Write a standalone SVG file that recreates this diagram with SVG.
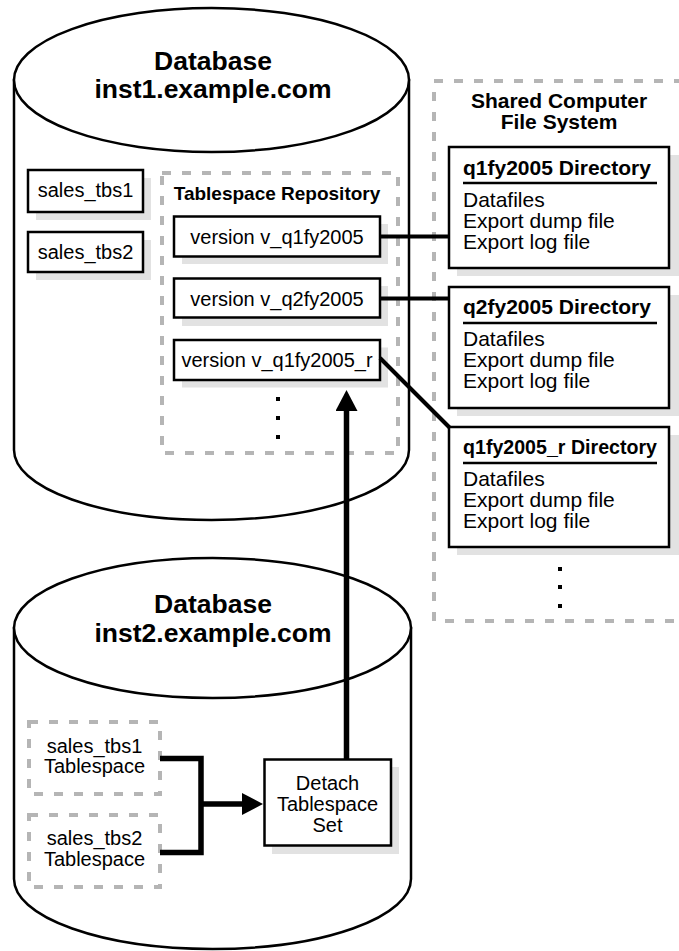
<svg xmlns="http://www.w3.org/2000/svg" width="679" height="951" viewBox="0 0 679 951">
<style>
.cyl{fill:#fff;stroke:#000;stroke-width:2.5}
.box{fill:#fff;stroke:#000;stroke-width:2.5}
.shadow{fill:#e2e2e2;stroke:none}
.dash{fill:none;stroke:#b5b5b5;stroke-width:4;stroke-dasharray:9 11}
.t{font-family:"Liberation Sans",Arial,Helvetica,sans-serif;font-size:20px;fill:#000}
.td{font-family:"Liberation Sans",Arial,Helvetica,sans-serif;font-size:21px;fill:#000}
.tb{font-family:"Liberation Sans",Arial,Helvetica,sans-serif;font-size:21px;font-weight:bold;fill:#000}
.title{font-family:"Liberation Sans",Arial,Helvetica,sans-serif;font-size:26.5px;font-weight:bold;fill:#000}
.c{text-anchor:middle}
.conn{fill:none;stroke:#000;stroke-width:4}
.thick{fill:none;stroke:#000;stroke-width:5.5}
.dot{fill:#000}
</style>
<defs>
<marker id="arr" markerWidth="22" markerHeight="22" refX="0" refY="11" orient="auto" markerUnits="userSpaceOnUse">
<path d="M0,0 L21,11 L0,22 z" fill="#000"/>
</marker>
</defs>

<g id="db1">
<path class="cyl" d="M14,80 L14,450 A197.5,70 0 0 0 409,450 L409,80 Z"/>
<ellipse class="cyl" cx="211.5" cy="80" rx="197.5" ry="72"/>
<text class="title c" x="213" y="70">Database</text>
<text class="title c" x="213" y="98">inst1.example.com</text>
</g>

<g id="sales_tbs1">
<rect class="shadow" x="36" y="178" width="115" height="42"/>
<rect class="box" x="28" y="170" width="115" height="42"/>
<text class="t c" x="85.5" y="197">sales_tbs1</text>
</g>
<g id="sales_tbs2">
<rect class="shadow" x="36" y="240" width="115" height="40"/>
<rect class="box" x="28" y="232" width="115" height="40"/>
<text class="t c" x="85.5" y="258.5">sales_tbs2</text>
</g>

<g id="repository">
<rect class="dash" x="162" y="173" width="236" height="280"/>
<text class="tb c" x="277" y="200" style="font-size:19px">Tablespace Repository</text>
<rect class="dot" x="276" y="397" width="4" height="4"/>
<rect class="dot" x="276" y="416" width="4" height="4"/>
<rect class="dot" x="276" y="435" width="4" height="4"/>
</g>

<g id="v_q1fy2005">
<rect class="shadow" x="182" y="224" width="206" height="40"/>
<rect class="box" x="174" y="216.5" width="206" height="40"/>
<text class="t c" x="277" y="243.5">version v_q1fy2005</text>
</g>
<g id="v_q2fy2005">
<rect class="shadow" x="182" y="286" width="206" height="40"/>
<rect class="box" x="174" y="278.5" width="206" height="39"/>
<text class="t c" x="277" y="305.5">version v_q2fy2005</text>
</g>
<g id="v_q1fy2005_r">
<rect class="shadow" x="182" y="347.5" width="206" height="40"/>
<rect class="box" x="174" y="340" width="206" height="40"/>
<text class="t c" x="277" y="366.5">version v_q1fy2005_r</text>
</g>

<g id="shared_fs">
<rect class="dash" x="434" y="81" width="270" height="540"/>
<text class="tb c" x="559" y="108">Shared Computer</text>
<text class="tb c" x="559" y="129">File System</text>
<rect class="dot" x="558" y="567" width="4" height="4"/>
<rect class="dot" x="558" y="585" width="4" height="4"/>
<rect class="dot" x="558" y="604" width="4" height="4"/>
</g>

<g id="dir_q1fy2005">
<rect class="shadow" x="457" y="155" width="230" height="121"/>
<rect class="box" x="449" y="147" width="220" height="121"/>
<text class="tb" x="463" y="175">q1fy2005 Directory</text>
<line x1="463" y1="183" x2="657" y2="183" stroke="#000" stroke-width="2.5"/>
<text class="td" x="463" y="206.5">Datafiles</text>
<text class="td" x="463" y="227.5">Export dump file</text>
<text class="td" x="463" y="248.5">Export log file</text>
</g>
<g id="dir_q2fy2005">
<rect class="shadow" x="457" y="295" width="230" height="121"/>
<rect class="box" x="449" y="287" width="220" height="121"/>
<text class="tb" x="463" y="314">q2fy2005 Directory</text>
<line x1="463" y1="323" x2="657" y2="323" stroke="#000" stroke-width="2.5"/>
<text class="td" x="463" y="345.5">Datafiles</text>
<text class="td" x="463" y="366.5">Export dump file</text>
<text class="td" x="463" y="388">Export log file</text>
</g>
<g id="dir_q1fy2005_r">
<rect class="shadow" x="457" y="435" width="230" height="120"/>
<rect class="box" x="449" y="427" width="220" height="120"/>
<text class="tb" x="463" y="454" textLength="194" lengthAdjust="spacingAndGlyphs">q1fy2005_r Directory</text>
<line x1="463" y1="463" x2="657" y2="463" stroke="#000" stroke-width="2.5"/>
<text class="td" x="463" y="486">Datafiles</text>
<text class="td" x="463" y="507">Export dump file</text>
<text class="td" x="463" y="528">Export log file</text>
</g>

<g id="db2">
<path class="cyl" d="M14,628 L14,879 A198.5,70 0 0 0 411,879 L411,628 Z"/>
<ellipse class="cyl" cx="212.5" cy="628" rx="198.5" ry="70"/>
<text class="title c" x="213" y="613">Database</text>
<text class="title c" x="213" y="641.5">inst2.example.com</text>
</g>

<g id="tbs1_tablespace">
<rect class="dash" x="29" y="722" width="131" height="72"/>
<text class="t c" x="94.5" y="752.5">sales_tbs1</text>
<text class="t c" x="94.5" y="773">Tablespace</text>
</g>
<g id="tbs2_tablespace">
<rect class="dash" x="29" y="815" width="131" height="72"/>
<text class="t c" x="94.5" y="845">sales_tbs2</text>
<text class="t c" x="94.5" y="866">Tablespace</text>
</g>

<g id="detach">
<rect class="shadow" x="272" y="767" width="127" height="87"/>
<rect class="box" x="264.5" y="759.5" width="126.5" height="86"/>
<text class="t c" x="327.5" y="790">Detach</text>
<text class="t c" x="327.5" y="811">Tablespace</text>
<text class="t c" x="327.5" y="832">Set</text>
</g>

<g id="connectors">
<line class="conn" x1="380" y1="236.5" x2="449" y2="236.5"/>
<line class="conn" x1="380" y1="298.5" x2="449" y2="298.5"/>
<line class="conn" x1="380" y1="358" x2="449.5" y2="427.5"/>
<path class="thick" d="M160,758.5 H201 V852.5 H160"/>
<path class="thick" d="M201,804 H242" marker-end="url(#arr)"/>
<path class="thick" d="M346.5,759.5 V411" marker-end="url(#arr)"/>
</g>
</svg>
